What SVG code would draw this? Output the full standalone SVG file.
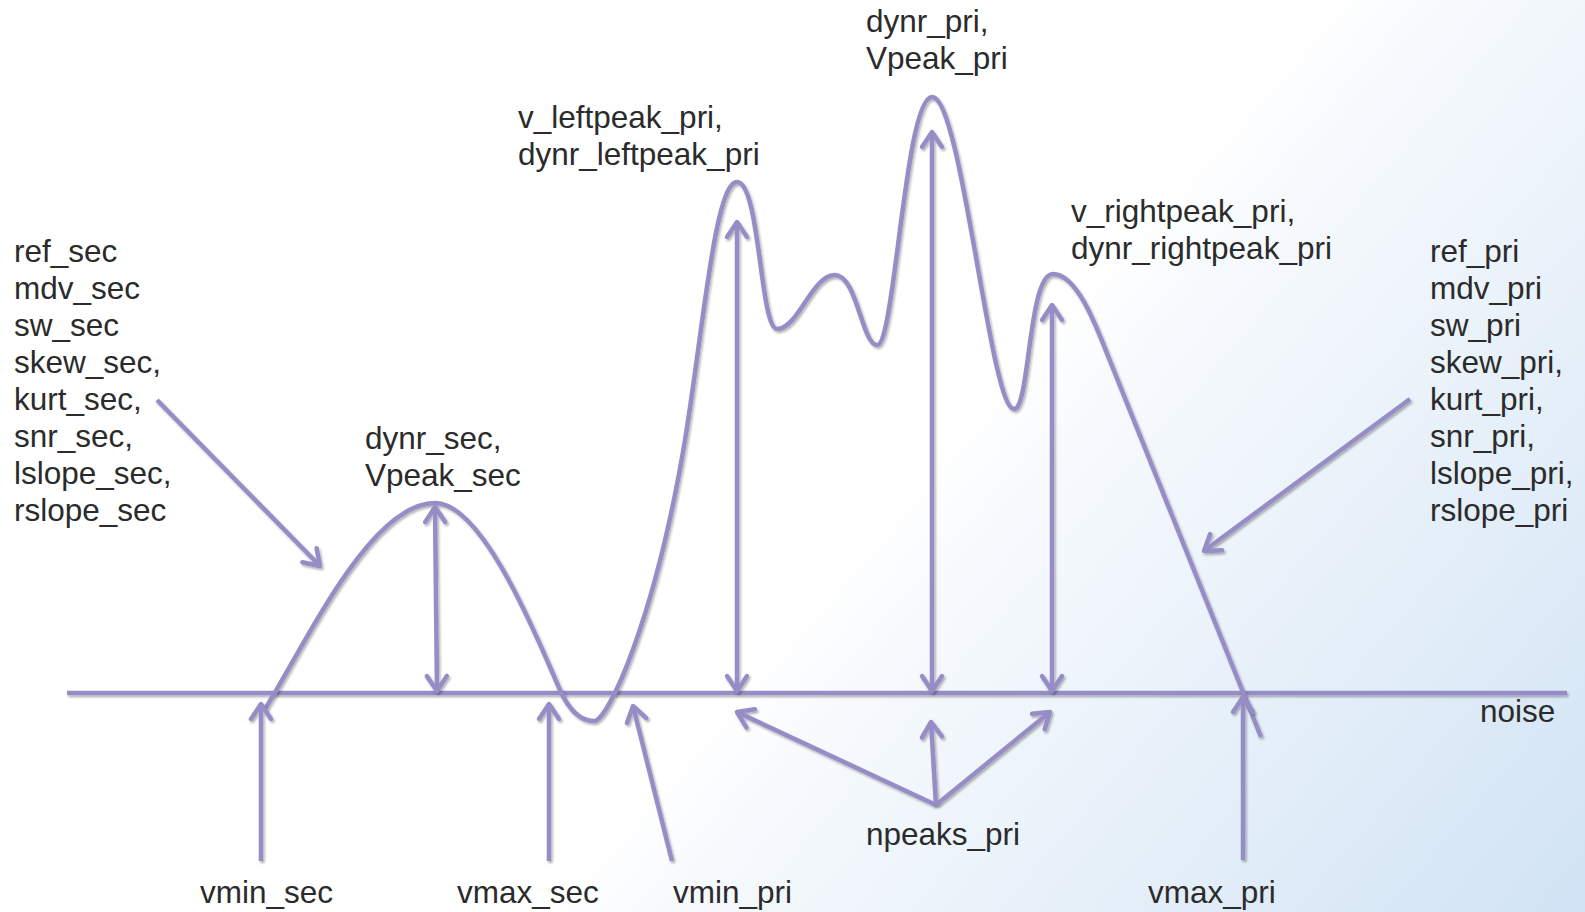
<svg xmlns="http://www.w3.org/2000/svg" width="1585" height="912" viewBox="0 0 1585 912">
<defs>
<linearGradient id="bg" gradientUnits="userSpaceOnUse" x1="960" y1="420" x2="1585" y2="960">
<stop offset="0" stop-color="#ffffff"/>
<stop offset="0.12" stop-color="#f7fafd"/>
<stop offset="1" stop-color="#cfe2f4"/>
</linearGradient>
<filter id="sh" filterUnits="userSpaceOnUse" x="0" y="0" width="1585" height="912">
<feDropShadow dx="1.5" dy="2" stdDeviation="1.2" flood-color="#000" flood-opacity="0.3"/>
</filter>
<marker id="ah" markerUnits="userSpaceOnUse" markerWidth="30" markerHeight="30" viewBox="-22 -15 26 30" refX="0" refY="0" orient="auto-start-reverse">
<path d="M -15 -10 L 0 0 L -15 10" fill="none" stroke="#968cc6" stroke-width="4.5" stroke-linecap="round" stroke-linejoin="round"/>
</marker>
</defs>
<style>
.ln{fill:none;stroke:#968cc6;stroke-width:4.5;filter:url(#sh)}
.ar{marker-end:url(#ah)}
.da{marker-start:url(#ah);marker-end:url(#ah)}
text{font-family:"Liberation Sans",Arial,sans-serif;font-size:31.5px;fill:#2b2b2b}
</style>
<rect x="0" y="0" width="1585" height="912" fill="url(#bg)"/>

<g id="baseline-noise">
<line class="ln" x1="67" y1="693" x2="1567" y2="693"/>
<text x="1480" y="722">noise</text>
</g>

<g id="spectrum">
<path class="ln" d="M 265 709 C 305 645, 370 503, 435 503 C 485 503, 542 650, 560 690 C 569 710, 580 721, 594 721 C 608 721, 655 620, 685 440 C 703 330, 715 182, 737 182 C 760 182, 760 329, 777 329 C 798 329, 812 275, 835 275 C 857 275, 862 345, 877 345 C 895 345, 905 97, 932 97 C 962 97, 990 409, 1014 409 C 1030 409, 1028 274, 1053 274 C 1078 274, 1098 331, 1110 361 L 1261 737"/>
</g>

<g id="connectors">
<line class="ln da" x1="435" y1="507" x2="437" y2="691"/>
<line class="ln da" x1="737" y1="222" x2="737" y2="691"/>
<line class="ln da" x1="932" y1="132" x2="932" y2="691"/>
<line class="ln da" x1="1052" y1="305" x2="1052" y2="691"/>
<line class="ln ar" x1="261" y1="861" x2="261" y2="704"/>
<line class="ln ar" x1="549" y1="861" x2="549" y2="704"/>
<line class="ln ar" x1="672" y1="861" x2="633" y2="706"/>
<line class="ln ar" x1="1243" y1="860" x2="1243" y2="697"/>
<line class="ln ar" x1="936" y1="805" x2="737" y2="712"/>
<line class="ln ar" x1="936" y1="805" x2="931" y2="722"/>
<line class="ln ar" x1="936" y1="805" x2="1050" y2="712"/>
<line class="ln ar" x1="157" y1="400" x2="320" y2="566"/>
<line class="ln ar" x1="1410" y1="399" x2="1204" y2="551"/>
</g>

<g id="sec-stats">
<text x="14" y="262">ref_sec</text>
<text x="14" y="299">mdv_sec</text>
<text x="14" y="336">sw_sec</text>
<text x="14" y="373">skew_sec,</text>
<text x="14" y="410">kurt_sec,</text>
<text x="14" y="447">snr_sec,</text>
<text x="14" y="484">lslope_sec,</text>
<text x="14" y="521">rslope_sec</text>
</g>

<g id="pri-stats">
<text x="1430" y="262">ref_pri</text>
<text x="1430" y="299">mdv_pri</text>
<text x="1430" y="336">sw_pri</text>
<text x="1430" y="373">skew_pri,</text>
<text x="1430" y="410">kurt_pri,</text>
<text x="1430" y="447">snr_pri,</text>
<text x="1430" y="484">lslope_pri,</text>
<text x="1430" y="521">rslope_pri</text>
</g>

<g id="sec-peak-label">
<text x="365" y="449">dynr_sec,</text>
<text x="365" y="486">Vpeak_sec</text>
</g>
<g id="pri-peak-label">
<text x="866" y="32">dynr_pri,</text>
<text x="866" y="69">Vpeak_pri</text>
</g>
<g id="leftpeak-label">
<text x="518" y="128">v_leftpeak_pri,</text>
<text x="518" y="165">dynr_leftpeak_pri</text>
</g>
<g id="rightpeak-label">
<text x="1071" y="222">v_rightpeak_pri,</text>
<text x="1071" y="259">dynr_rightpeak_pri</text>
</g>
<g id="npeaks-label"><text x="866" y="845">npeaks_pri</text></g>
<g id="vmin-sec-label"><text x="200" y="903">vmin_sec</text></g>
<g id="vmax-sec-label"><text x="457" y="903">vmax_sec</text></g>
<g id="vmin-pri-label"><text x="673" y="903">vmin_pri</text></g>
<g id="vmax-pri-label"><text x="1148" y="903">vmax_pri</text></g>
</svg>
